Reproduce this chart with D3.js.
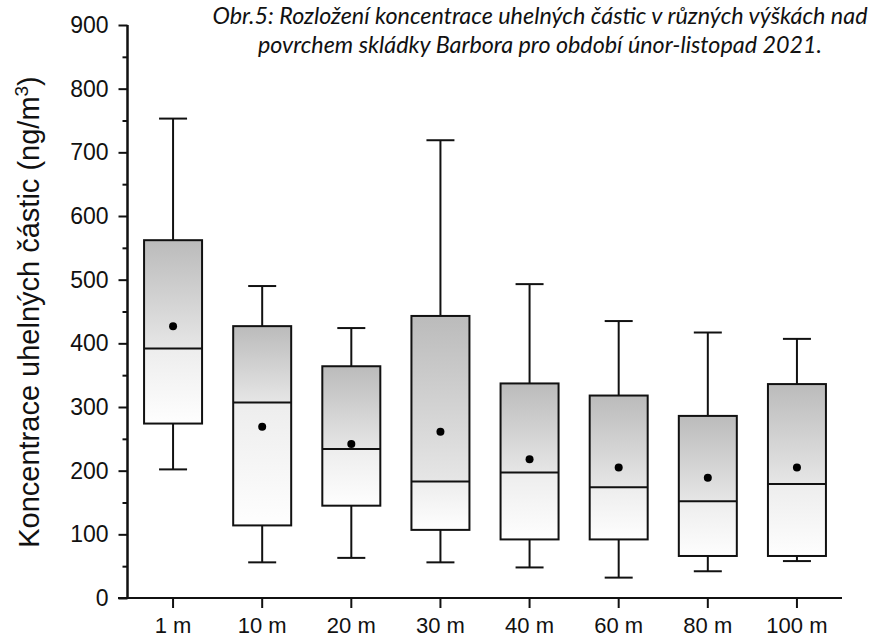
<!DOCTYPE html>
<html>
<head>
<meta charset="utf-8">
<script src="https://cdn.jsdelivr.net/npm/d3@7"></script>
<style>
  body { margin: 0; background: #fff; }
  svg { display: block; }
</style>
</head>
<body>
<div id="chart"></div>
<script>
// data
var heights = ["1 m", "10 m", "20 m", "30 m", "40 m", "60 m", "80 m", "100 m"];
var whiskerHigh = [753, 490, 424, 719, 493, 435, 417, 407];
var q3 = [562, 427, 364, 443, 337, 318, 286, 336];
var median = [392, 307, 234, 183, 197, 174, 152, 179];
var q1 = [274, 114, 145, 107, 92, 92, 66, 66];
var whiskerLow = [202, 56, 63, 56, 48, 32, 42, 58];
var means = [427, 269, 242, 261, 218, 205, 189, 205];
var yTicks = [0, 100, 200, 300, 400, 500, 600, 700, 800, 900];

var svgWidth = 871;
var svgHeight = 638;

var svg = d3.select("#chart")
  .append("svg")
  .attr("width", svgWidth)
  .attr("height", svgHeight);

var boxes = heights.map(function(h, i) {
  return {
    name: h,
    hi: whiskerHigh[i],
    q3: q3[i],
    med: median[i],
    q1: q1[i],
    lo: whiskerLow[i],
    mean: means[i]
  };
});

// scales
var x = d3.scaleBand()
  .domain(heights)
  .range([128.5, 841.5]);

var y = d3.scaleLinear()
  .domain([0, 900])
  .range([598, 25]);

// gradients: each half of the box has its own
var defs = svg.append("defs");
var upper = defs.append("linearGradient")
  .attr("id", "gradUpper")
  .attr("x1", 0).attr("y1", 0).attr("x2", 0).attr("y2", 1);
upper.append("stop").attr("offset", "0%").attr("stop-color", "#bbbbbb");
upper.append("stop").attr("offset", "100%").attr("stop-color", "#e6e6e6");

var lower = defs.append("linearGradient")
  .attr("id", "gradLower")
  .attr("x1", 0).attr("y1", 0).attr("x2", 0).attr("y2", 1);
lower.append("stop").attr("offset", "0%").attr("stop-color", "#ededed");
lower.append("stop").attr("offset", "100%").attr("stop-color", "#fefefe");

var boxW = 58;
var capW = 28;

var g = svg.append("g").selectAll("g")
  .data(boxes)
  .enter()
  .append("g")
  .attr("transform", d => `translate(${x(d.name) + x.bandwidth() / 2}, 0)`);

// whiskers
g.append("line")
  .attr("x1", 0).attr("x2", 0)
  .attr("y1", d => y(d.hi))
  .attr("y2", d => y(d.q3))
  .attr("stroke", "#111").attr("stroke-width", 2);
g.append("line")
  .attr("x1", 0).attr("x2", 0)
  .attr("y1", d => y(d.q1))
  .attr("y2", d => y(d.lo))
  .attr("stroke", "#111").attr("stroke-width", 2);
g.append("line")
  .attr("x1", -capW / 2).attr("x2", capW / 2)
  .attr("y1", d => y(d.hi)).attr("y2", d => y(d.hi))
  .attr("stroke", "#111").attr("stroke-width", 2);
g.append("line")
  .attr("x1", -capW / 2).attr("x2", capW / 2)
  .attr("y1", d => y(d.lo)).attr("y2", d => y(d.lo))
  .attr("stroke", "#111").attr("stroke-width", 2);

// box halves
g.append("rect")
  .attr("x", -boxW / 2)
  .attr("width", boxW)
  .attr("y", d => y(d.q3))
  .attr("height", d => y(d.med) - y(d.q3))
  .attr("fill", "url(#gradUpper)");
g.append("rect")
  .attr("x", -boxW / 2)
  .attr("width", boxW)
  .attr("y", d => y(d.med))
  .attr("height", d => y(d.q1) - y(d.med))
  .attr("fill", "url(#gradLower)");
// outline
g.append("rect")
  .attr("x", -boxW / 2)
  .attr("width", boxW)
  .attr("y", d => y(d.q3))
  .attr("height", d => y(d.q1) - y(d.q3))
  .attr("fill", "none")
  .attr("stroke", "#111").attr("stroke-width", 2);
g.append("line")
  .attr("x1", -boxW / 2).attr("x2", boxW / 2)
  .attr("y1", d => y(d.med)).attr("y2", d => y(d.med))
  .attr("stroke", "#111").attr("stroke-width", 2);

// mean dot
g.append("circle")
  .attr("cx", 0)
  .attr("cy", d => y(d.mean))
  .attr("r", 4)
  .attr("fill", "#000");

// y axis with minor ticks
var yAxisG = svg.append("g")
  .attr("transform", "translate(127.5,0)");
yAxisG.call(d3.axisLeft(y).tickValues(d3.range(50, 900, 100)).tickSize(5).tickFormat(""));
yAxisG.call(g2 => g2.append("g").call(d3.axisLeft(y).tickValues(yTicks).tickSize(9).tickPadding(10)));
yAxisG.selectAll("path.domain")
  .attr("stroke", "#111").attr("stroke-width", 2)
  .attr("d", `M0,${y(0)}V${y(900)}`);
yAxisG.selectAll(".tick line").attr("stroke", "#111").attr("stroke-width", 2);
yAxisG.selectAll("text")
  .attr("fill", "#111")
  .style("font-family", "'Liberation Sans', Arial, sans-serif")
  .style("font-size", "23px");

// x axis
var xAxisG = svg.append("g")
  .attr("transform", `translate(0,${y(0)})`)
  .call(d3.axisBottom(x).tickSize(10).tickSizeOuter(0));
xAxisG.select("path.domain")
  .attr("stroke", "#111").attr("stroke-width", 2)
  .attr("d", "M118,0H842");
xAxisG.selectAll(".tick line").attr("stroke", "#111").attr("stroke-width", 2);
xAxisG.selectAll("text")
  .attr("y", 35)
  .attr("dy", 0)
  .attr("fill", "#111")
  .style("font-family", "'Liberation Sans', Arial, sans-serif")
  .style("font-size", "22px");

// y label
var yLabel = svg.append("text")
  .attr("transform", "translate(39,312) rotate(-90)")
  .attr("text-anchor", "middle")
  .attr("fill", "#111")
  .style("font-family", "'Liberation Sans', Arial, sans-serif")
  .style("font-size", "29px");
yLabel.append("tspan").text("Koncentrace uhelných částic (ng/m");
yLabel.append("tspan").attr("dy", -11).style("font-size", "19px").text("3");
yLabel.append("tspan").attr("dy", 11).text(")");

// title
var titleLines = [
  "Obr.5: Rozložení koncentrace uhelných částic v různých výškách nad",
  "povrchem skládky Barbora pro období únor-listopad 2021."
];
var titleWidths = [655, 564];
svg.append("g").selectAll("text")
  .data(titleLines)
  .enter()
  .append("text")
  .attr("x", (d, i) => 540 - titleWidths[i] / 2)
  .attr("y", (d, i) => 23.5 + i * 29.5)
  .attr("textLength", (d, i) => titleWidths[i])
  .attr("lengthAdjust", "spacingAndGlyphs")
  .attr("fill", "#111")
  .style("font-family", "Lato, 'Open Sans', sans-serif")
  .style("font-style", "italic")
  .style("font-size", "23px")
  .text(d => d);
</script>
</body>
</html>
